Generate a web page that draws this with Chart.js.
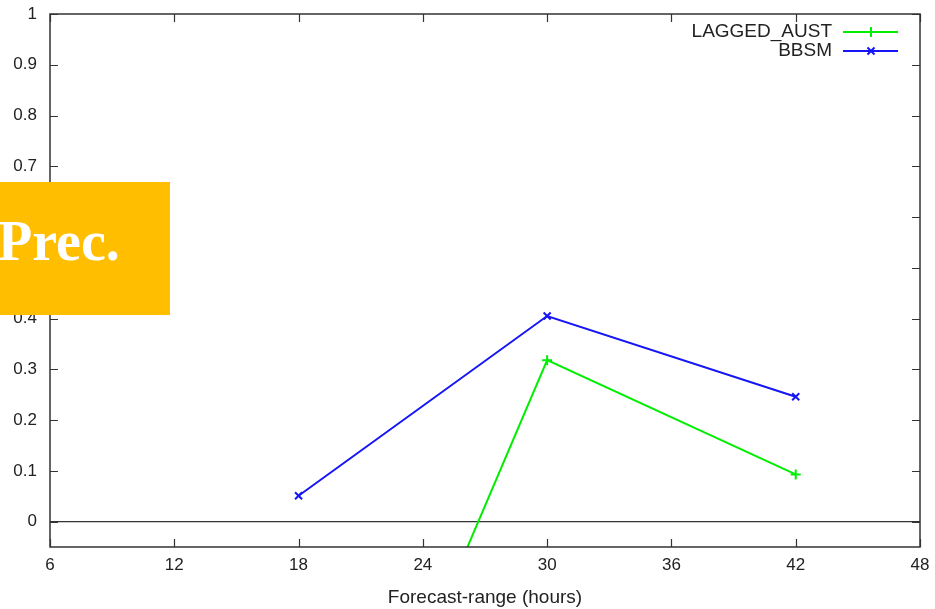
<!DOCTYPE html>
<html>
<head>
<meta charset="utf-8">
<script src="https://cdn.jsdelivr.net/npm/chart.js@4/dist/chart.umd.min.js"></script>
<style>
  html, body { margin: 0; padding: 0; background: #fff; }
  #wrap { position: relative; width: 935px; height: 609px; }
  #tag {
    position: absolute; left: 0; top: 182px; width: 170px; height: 133px;
    background: #ffbf00; overflow: hidden;
  }
  #tag span {
    position: absolute; left: -2px; top: 31px;
    font: bold 56px "Liberation Serif", serif; color: #fff; line-height: 1;
  }
</style>
</head>
<body>
<div id="wrap">
  <canvas id="grafico" width="935" height="609"></canvas>
  <div id="tag"><span>Prec.</span></div>
</div>
<script>
// horas de pronóstico y puntaje de cada sistema
const horas = [18, 30, 42];
const laggedAust = [-0.83, 0.318, 0.093];
const bbsm = [0.051, 0.405, 0.246];

const ticksX = [6, 12, 18, 24, 30, 36, 42, 48];
const ticksY = [0, 0.1, 0.2, 0.3, 0.4, 0.5, 0.6, 0.7, 0.8, 0.9, 1];
const etiquetasY = ["0", "0.1", "0.2", "0.3", "0.4", "0.5", "0.6", "0.7", "0.8", "0.9", "1"];

const COLOR_EJE = "#333";
const FUENTE = "'Liberation Sans', Arial, sans-serif";

// marco tipo gnuplot: borde completo con marcas hacia adentro (y espejadas)
const marcoGnuplot = {
  id: "marcoGnuplot",
  afterDatasetsDraw(chart) {
    const { ctx, chartArea: a, scales } = chart;
    ctx.save();
    ctx.strokeStyle = COLOR_EJE;
    ctx.lineWidth = 1.5;
    ctx.strokeRect(a.left, a.top, a.right - a.left, a.bottom - a.top);
    ctx.lineWidth = 1.2;
    ctx.beginPath();
    ticksY.forEach((v) => {
      const y = Math.round(scales.y.getPixelForValue(v)) + 0.5;
      ctx.moveTo(a.left, y); ctx.lineTo(a.left + 8, y);
      ctx.moveTo(a.right, y); ctx.lineTo(a.right - 8, y);
    });
    ticksX.forEach((v) => {
      const x = Math.round(scales.x.getPixelForValue(v)) + 0.5;
      ctx.moveTo(x, a.bottom); ctx.lineTo(x, a.bottom - 8);
      ctx.moveTo(x, a.top); ctx.lineTo(x, a.top + 8);
    });
    ctx.stroke();
    ctx.restore();
  },
};

// leyenda arriba a la derecha: texto alineado a la derecha y muestra de línea
const leyendaGnuplot = {
  id: "leyendaGnuplot",
  afterDraw(chart) {
    const { ctx } = chart;
    ctx.save();
    ctx.font = `19px ${FUENTE}`;
    ctx.textAlign = "right";
    ctx.textBaseline = "middle";
    chart.data.datasets.forEach((ds, i) => {
      const y = 32 + i * 19;
      ctx.fillStyle = "#222";
      ctx.fillText(ds.label, 832, y);
      ctx.strokeStyle = ds.borderColor;
      ctx.lineWidth = 2;
      ctx.beginPath();
      ctx.moveTo(843, y); ctx.lineTo(898, y);
      ctx.stroke();
      Chart.helpers.drawPoint(ctx, {
        pointStyle: ds.pointStyle, radius: 5, rotation: 0, borderWidth: 2,
      }, 871, y);
    });
    ctx.restore();
  },
};

new Chart(document.getElementById("grafico"), {
  type: "line",
  data: {
    labels: horas,
    datasets: [
      {
        label: "LAGGED_AUST",
        data: horas.map((h, i) => ({ x: h, y: laggedAust[i] })),
        borderColor: "#00ee00",
        pointStyle: "cross",
        pointBorderColor: "#00ee00",
      },
      {
        label: "BBSM",
        data: horas.map((h, i) => ({ x: h, y: bbsm[i] })),
        borderColor: "#1515f5",
        pointStyle: "crossRot",
        pointBorderColor: "#1515f5",
      },
    ],
  },
  options: {
    responsive: false,
    animation: false,
    layout: { padding: { left: 0, right: 15, top: 14, bottom: 0 } },
    elements: {
      line: { borderWidth: 2, tension: 0, fill: false },
      point: { radius: 5, borderWidth: 2, hoverRadius: 5 },
    },
    scales: {
      x: {
        type: "linear",
        min: 6,
        max: 48,
        afterBuildTicks: (s) => { s.ticks = ticksX.map((v) => ({ value: v })); },
        afterFit: (s) => { s.height = 62; s.paddingLeft = 0; s.paddingRight = 0; },
        grid: { display: false, drawTicks: false },
        border: { display: false },
        ticks: { color: "#222", padding: 8, font: { family: FUENTE, size: 17 } },
        title: {
          display: true,
          text: "Forecast-range (hours)",
          color: "#222",
          padding: { top: 3, bottom: 0 },
          font: { family: FUENTE, size: 19 },
        },
      },
      y: {
        min: -0.05,
        max: 1,
        afterBuildTicks: (s) => { s.ticks = ticksY.map((v) => ({ value: v })); },
        afterFit: (s) => { s.width = 50; s.paddingTop = 0; s.paddingBottom = 0; },
        grid: {
          drawTicks: false,
          color: (c) => (c.tick && c.tick.value === 0 ? COLOR_EJE : "rgba(0,0,0,0)"),
          lineWidth: 1.2,
        },
        border: { display: false },
        ticks: {
          color: "#222",
          padding: 13,
          font: { family: FUENTE, size: 17 },
          callback: (v, i) => etiquetasY[i],
        },
      },
    },
    plugins: {
      legend: { display: false },
      tooltip: { enabled: false },
    },
  },
  plugins: [marcoGnuplot, leyendaGnuplot],
});
</script>
</body>
</html>
